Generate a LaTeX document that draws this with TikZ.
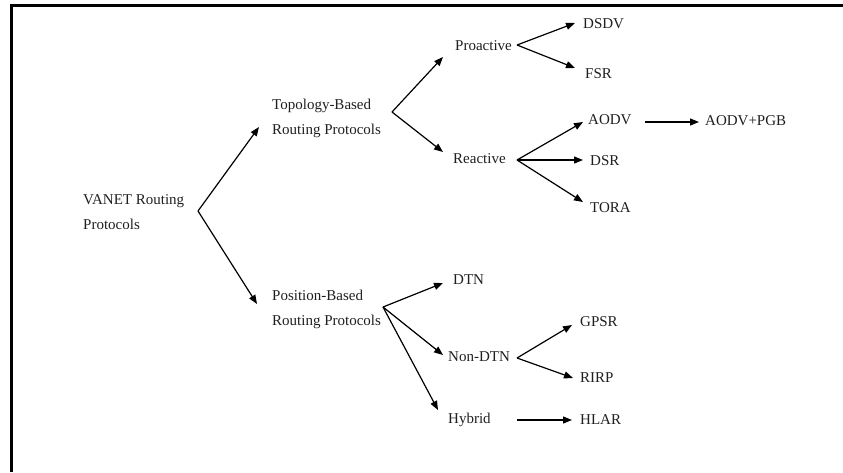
\documentclass[tikz,border=0pt]{standalone}
\usepackage{fontspec}
\setmainfont{Liberation Serif}
\usetikzlibrary{arrows.meta}
\begin{document}
\begin{tikzpicture}[x=1pt,y=-1pt,
  txt/.style={anchor=west,inner sep=0pt,font=\fontsize{15}{25}\selectfont,align=left,text=black!88},
  arr/.style={line width=1.2pt,-{Triangle[length=9pt,width=7pt]}},
  ln/.style={line width=1.2pt}]
\useasboundingbox (0,0) rectangle (843,472);
% frame (top and left edges only)
\draw[line width=2.5pt] (843,5.5) -- (11.5,5.5) -- (11.5,472);

% text nodes
\node[txt] (vanet) at (83,212) {VANET Routing\\Protocols};
\node[txt] (topo) at (272,118) {Topology-Based\\Routing Protocols};
\node[txt] (pos) at (272,309) {Position-Based\\Routing Protocols};
\node[txt] (pro) at (455,46) {Proactive};
\node[txt] (rea) at (453,159) {Reactive};
\node[txt] (dsdv) at (583,24) {DSDV};
\node[txt] (fsr) at (585,74) {FSR};
\node[txt] (aodv) at (588,120) {AODV};
\node[txt] (pgb) at (705,121) {AODV+PGB};
\node[txt] (dsr) at (590,161) {DSR};
\node[txt] (tora) at (590,208) {TORA};
\node[txt] (dtn) at (453,280) {DTN};
\node[txt] (ndtn) at (448,357) {Non-DTN};
\node[txt] (hyb) at (448,420) {Hybrid};
\node[txt] (gpsr) at (580,322) {GPSR};
\node[txt] (rirp) at (580,378) {RIRP};
\node[txt] (hlar) at (580,420) {HLAR};

% branch points
\coordinate (vb) at (198,211);
\coordinate (tb) at (392,112);
\coordinate (pb) at (383,307);
\coordinate (prb) at (517,45);
\coordinate (reb) at (517,160);
\coordinate (ndb) at (517,358);
\coordinate (aodvr) at (645,122);
\coordinate (hybr) at (517,420);

% arrow tips
\coordinate (t-topo) at (259,127);
\coordinate (t-pos) at (257,304);
\coordinate (t-pro) at (443,57);
\coordinate (t-rea) at (443,152);
\coordinate (t-dsdv) at (575,23);
\coordinate (t-fsr) at (575,68);
\coordinate (t-aodv) at (583,122);
\coordinate (t-dsr) at (583,160);
\coordinate (t-tora) at (583,202);
\coordinate (t-pgb) at (699,122);
\coordinate (t-dtn) at (443,283);
\coordinate (t-ndtn) at (443,355);
\coordinate (t-hyb) at (438,410);
\coordinate (t-gpsr) at (572,325);
\coordinate (t-rirp) at (573,378);
\coordinate (t-hlar) at (572,420);

% connectors
\draw[arr] (vb) -- (t-topo);
\draw[arr] (vb) -- (t-pos);
\draw[arr] (tb) -- (t-pro);
\draw[arr] (tb) -- (t-rea);
\draw[arr] (prb) -- (t-dsdv);
\draw[arr] (prb) -- (t-fsr);
\draw[arr] (reb) -- (t-aodv);
\draw[arr] (reb) -- (t-dsr);
\draw[arr] (reb) -- (t-tora);
\draw[arr] (aodvr) -- (t-pgb);
\draw[arr] (pb) -- (t-dtn);
\draw[arr] (pb) -- (t-ndtn);
\draw[arr] (pb) -- (t-hyb);
\draw[arr] (ndb) -- (t-gpsr);
\draw[arr] (ndb) -- (t-rirp);
\draw[arr] (hybr) -- (t-hlar);
\end{tikzpicture}
\end{document}
